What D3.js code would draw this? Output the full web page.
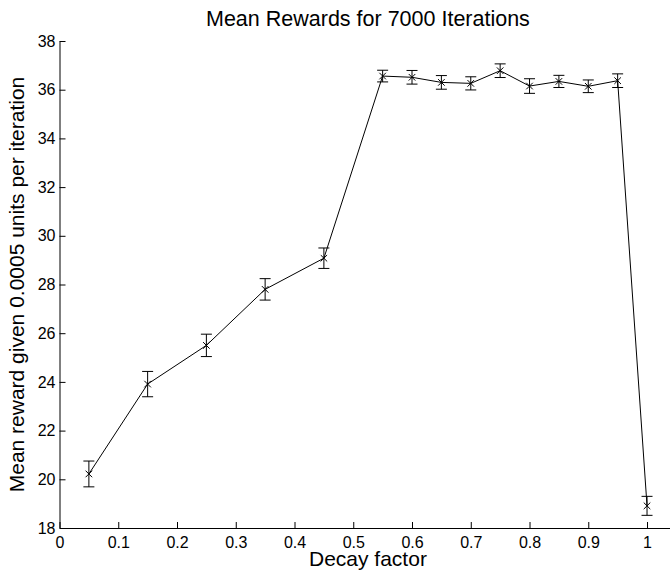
<!DOCTYPE html>
<html>
<head>
<meta charset="utf-8">
<script src="https://cdn.jsdelivr.net/npm/d3@7"></script>
<style>
  body { margin: 0; background: #fff; }
  text { font-family: "Liberation Sans", Arial, Helvetica, sans-serif; fill: #000; }
</style>
</head>
<body>
<svg id="chart" width="670" height="571"></svg>
<script>
// decay factor values (x)
var decay = [0.05, 0.15, 0.25, 0.35, 0.45, 0.55, 0.6, 0.65, 0.7, 0.75, 0.8, 0.85, 0.9, 0.95, 1.0];
// mean reward (y)
var meanReward = [20.22, 23.91, 25.50, 27.80, 29.08, 36.56, 36.51, 36.30, 36.26, 36.78, 36.15, 36.34, 36.14, 36.37, 18.91];
// half length of error bars
var errHalf = [0.53, 0.52, 0.46, 0.44, 0.42, 0.24, 0.28, 0.28, 0.27, 0.28, 0.30, 0.25, 0.26, 0.28, 0.39];

var xTicks = [0, 0.1, 0.2, 0.3, 0.4, 0.5, 0.6, 0.7, 0.8, 0.9, 1];
var yTicks = [18, 20, 22, 24, 26, 28, 30, 32, 34, 36, 38];

var titleText = "Mean Rewards for 7000 Iterations";
var xLabel = "Decay factor";
var yLabel = "Mean reward given 0.0005 units per iteration";

var plotLeft = 59.5, plotTop = 41, plotBottom = 528;
var plotWidth = 616.9;
var svg = d3.select('#chart');

var x = d3.scaleLinear()
          .domain([0, 1.05])
          .range([plotLeft, plotLeft + plotWidth]);
var y = d3.scaleLinear()
          .domain([18, 38])
          .range([plotBottom, plotTop]);

var data = decay.map(function(d, i) {
  return { x: d, y: meanReward[i], e: errHalf[i] };
});

// axes (MATLAB style: ticks pointing inward)
var xAxis = d3.axisBottom(x)
              .tickValues(xTicks)
              .tickSizeInner(-6)
              .tickSizeOuter(0)
              .tickPadding(9)
              .tickFormat(d3.format('~g'));
var yAxis = d3.axisLeft(y)
              .tickValues(yTicks)
              .tickSizeInner(-6)
              .tickSizeOuter(0)
              .tickPadding(4);

var gx = svg.append('g')
  .attr('transform', 'translate(0,' + plotBottom + ')')
  .call(xAxis);
var gy = svg.append('g')
  .attr('transform', 'translate(' + plotLeft + ',0)')
  .call(yAxis);

[gx, gy].forEach(function(g) {
  g.selectAll('path, line').attr('stroke', '#000').attr('stroke-width', 1);
  g.selectAll('text')
    .style('font-family', '"Liberation Sans", Arial, sans-serif')
    .attr('font-size', 16)
    .attr('fill', '#000');
});

// error bars
var eb = svg.append('g')
  .selectAll('g')
  .data(data)
  .enter()
  .append('g');
eb.append('line')
  .attr('x1', function(d) { return x(d.x); })
  .attr('x2', function(d) { return x(d.x); })
  .attr('y1', function(d) { return y(d.y - d.e); })
  .attr('y2', function(d) { return y(d.y + d.e); });
eb.append('line')
  .attr('x1', function(d) { return x(d.x) - 5.5; })
  .attr('x2', function(d) { return x(d.x) + 5.5; })
  .attr('y1', function(d) { return y(d.y - d.e); })
  .attr('y2', function(d) { return y(d.y - d.e); });
eb.append('line')
  .attr('x1', function(d) { return x(d.x) - 5.5; })
  .attr('x2', function(d) { return x(d.x) + 5.5; })
  .attr('y1', function(d) { return y(d.y + d.e); })
  .attr('y2', function(d) { return y(d.y + d.e); });
eb.selectAll('line').attr('stroke', '#000').attr('stroke-width', 1);

// mean line
var line = d3.line()
  .x(function(d) { return x(d.x); })
  .y(function(d) { return y(d.y); });
svg.append('path')
  .datum(data)
  .attr('d', line)
  .attr('fill', 'none')
  .attr('stroke', '#000')
  .attr('stroke-width', 1);

// x markers
svg.append('g')
  .selectAll('path')
  .data(data)
  .enter()
  .append('path')
  .attr('d', d3.symbol().type(d3.symbolX).size(30))
  .attr('transform', function(d) { return 'translate(' + x(d.x) + ',' + y(d.y) + ')'; })
  .attr('fill', 'none')
  .attr('stroke', '#000')
  .attr('stroke-width', 1);

// titles
svg.append('text')
  .attr('x', plotLeft + plotWidth / 2)
  .attr('y', 26)
  .attr('text-anchor', 'middle')
  .attr('font-size', 21.5)
  .text(titleText);
svg.append('text')
  .attr('x', plotLeft + plotWidth / 2)
  .attr('y', 566)
  .attr('text-anchor', 'middle')
  .attr('font-size', 21)
  .text(xLabel);
svg.append('text')
  .attr('transform', 'translate(24,' + ((plotTop + plotBottom) / 2) + ') rotate(-90)')
  .attr('text-anchor', 'middle')
  .attr('font-size', 21)
  .text(yLabel);
</script>
</body>
</html>
